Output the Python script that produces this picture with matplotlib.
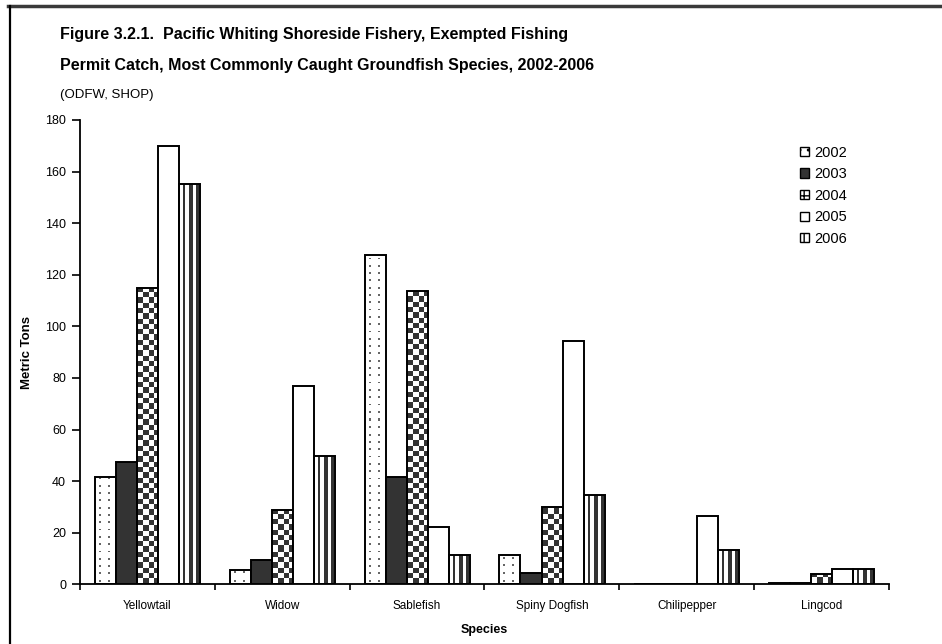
import numpy as np
import matplotlib
matplotlib.use("Agg")
import matplotlib.pyplot as plt
from matplotlib.patches import Patch
from matplotlib.lines import Line2D

species = ["Yellowtail", "Widow", "Sablefish", "Spiny Dogfish", "Chilipepper", "Lingcod"]
years = ["2002", "2003", "2004", "2005", "2006"]
catch_2002 = [41.7, 5.6, 127.6, 11.4, 0.0, 0.4]
catch_2003 = [47.5, 9.4, 41.6, 4.3, 0.0, 0.6]
catch_2004 = [114.7, 28.8, 113.7, 30.0, 0.0, 3.9]
catch_2005 = [169.9, 76.9, 22.2, 94.3, 26.4, 6.1]
catch_2006 = [155.0, 49.7, 11.4, 34.5, 13.2, 6.1]
y_ticks = [0, 20, 40, 60, 80, 100, 120, 140, 160, 180]

DARK = "#333333"
plt.rcParams["font.family"] = ["Liberation Sans", "DejaVu Sans"]


# pixel textures used to fill the bars
def tex_dots(w, h):
    img = np.ones((h, w, 3))
    yy, xx = np.mgrid[0:h, 0:w]
    m = (((xx - 4) % 7.8) < 1.8) & (xx >= 4) & (xx <= w - 5) & (((yy - 2) % 7.3) < 1.8)
    img[m] = 0.4
    return img


def tex_checker(w, h):
    yy, xx = np.mgrid[0:h, 0:w]
    c = ((xx // 5.3).astype(int) + (yy // 5.3).astype(int)) % 2
    img = np.ones((h, w, 3))
    img[c == 1] = 0.2
    return img


def tex_stripes(w, h):
    yy, xx = np.mgrid[0:h, 0:w]
    img = np.ones((h, w, 3))
    img[((xx - 3.3) % 6.2) < 2.6] = 0.2
    return img


fig = plt.figure(figsize=(9.42, 6.44), dpi=100)
ax = fig.add_axes([0.0849, 0.0927, 0.8588, 0.721])
ax.set_xlim(0, len(species))
ax.set_ylim(0, 180)

series = [catch_2002, catch_2003, catch_2004, catch_2005, catch_2006]
styles = [("tex", tex_dots), ("solid", DARK), ("tex", tex_checker),
          ("solid", "white"), ("tex", tex_stripes)]
bw = 0.156
x = np.arange(len(species)) + 0.111

for i, (vals, (kind, st)) in enumerate(zip(series, styles)):
    left = x + i * bw
    if kind == "solid":
        ax.bar(left, vals, bw, align="edge", color=st, edgecolor="black",
               linewidth=1.4, zorder=3)
        continue
    bars = ax.bar(left, vals, bw, align="edge", facecolor="none",
                  edgecolor="black", linewidth=1.4, zorder=3)
    for b, l, v in zip(bars, left, vals):
        (px0, py0), (px1, py1) = ax.transData.transform([(l, 0), (l + bw, v)])
        w = max(1, int(round(px1 - px0)))
        h = max(1, int(round(py1 - py0)))
        im = ax.imshow(st(w, h)[::-1], extent=(l, l + bw, 0, v), origin="upper",
                       interpolation="nearest", aspect="auto", zorder=2)
        im.set_clip_path(b)

ax.set_xlim(0, len(species))
ax.set_ylim(0, 180)

for s in ["top", "right"]:
    ax.spines[s].set_visible(False)
ax.spines["left"].set_linewidth(1.3)
ax.spines["bottom"].set_linewidth(1.3)

ax.set_yticks(y_ticks)
ax.set_yticklabels([str(t) for t in y_ticks], fontsize=9)
ax.set_xticks(np.arange(len(species) + 1))
ax.set_xticklabels([])
ax.set_xticks(np.arange(len(species)) + 0.5, minor=True)
ax.set_xticklabels(species, minor=True, fontsize=8.5)
ax.tick_params(axis="x", which="minor", length=0, pad=11)
ax.tick_params(axis="x", which="major", length=4, width=1.2)
ax.tick_params(axis="y", length=6, width=1.2, pad=4)

ax.set_ylabel("Metric Tons", fontsize=9.5, fontweight="bold")
ax.yaxis.set_label_coords(-0.058, 0.5)
ax.set_xlabel("Species", fontsize=9, fontweight="bold", labelpad=9)

handles = [
    Patch(facecolor="white", edgecolor="black", hatch="..", label=years[0]),
    Patch(facecolor=DARK, edgecolor="black", label=years[1]),
    Patch(facecolor="white", edgecolor="black", hatch="++", label=years[2]),
    Patch(facecolor="white", edgecolor="black", label=years[3]),
    Patch(facecolor="white", edgecolor="black", hatch="||", label=years[4]),
]
fig.legend(handles=handles, loc="upper left", bbox_to_anchor=(0.843, 0.783),
           frameon=False, fontsize=10.5, handlelength=0.6, handleheight=0.6,
           handletextpad=0.35, labelspacing=0.52, borderaxespad=0)

fig.text(0.064, 0.946, "Figure 3.2.1.  Pacific Whiting Shoreside Fishery, Exempted Fishing",
         fontsize=11.5, fontweight="bold", va="center")
fig.text(0.064, 0.899, "Permit Catch, Most Commonly Caught Groundfish Species, 2002-2006",
         fontsize=11.5, fontweight="bold", va="center")
fig.text(0.064, 0.853, "(ODFW, SHOP)", fontsize=9.5, va="center")

# outer frame edges of the original figure
fig.add_artist(Line2D([8 / 942, 1], [1 - 5.5 / 644] * 2, color="#3a3a3a", lw=2.5))
fig.add_artist(Line2D([9.5 / 942] * 2, [0, 1 - 5.5 / 644], color="black", lw=1.6))

fig.savefig("out.png", dpi=100)
